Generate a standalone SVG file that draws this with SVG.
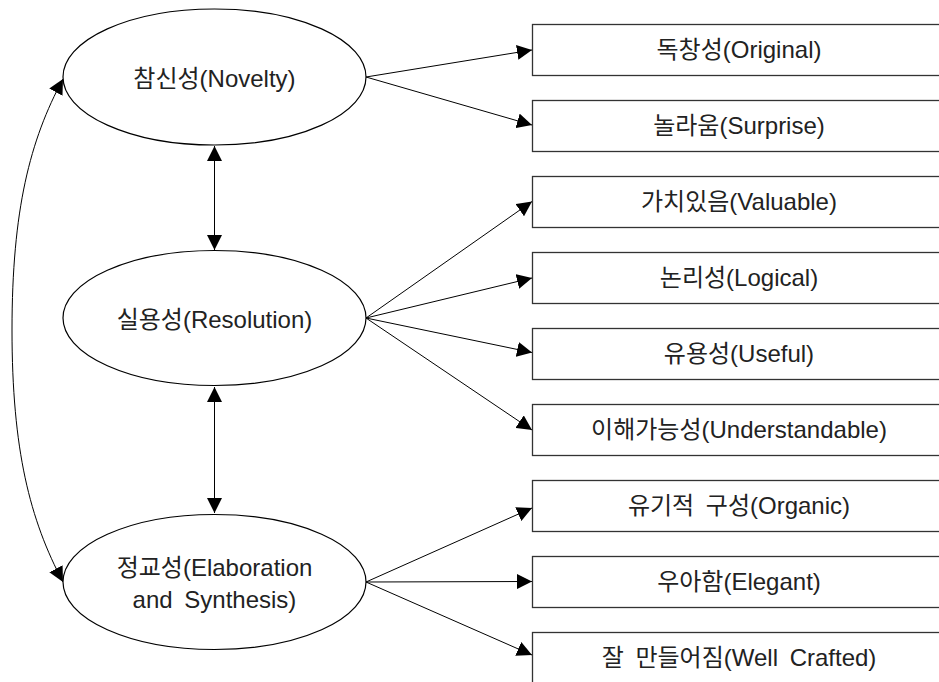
<svg xmlns="http://www.w3.org/2000/svg" width="939" height="682" viewBox="0 0 939 682">
<style>
.el{fill:#fff;stroke:#000;stroke-width:1.2}
.bx{fill:#fff;stroke:#333;stroke-width:1.3}
.t{font-family:"Liberation Sans","Noto Sans CJK KR",sans-serif;font-size:24px;fill:#222;text-anchor:middle;word-spacing:5px}
.c{fill:none;stroke:#000;stroke-width:1}
</style>
<defs>
<marker id="ah" viewBox="0 0 15 15" refX="15" refY="7.5" markerWidth="15" markerHeight="15" markerUnits="userSpaceOnUse" orient="auto-start-reverse">
<path d="M0,0 L15,7.5 L0,15 z" fill="#000"/>
</marker>
</defs>
<rect width="939" height="682" fill="#fff"/>
<g id="connectors">
<path class="c" d="M214.5,146 L214.5,250" marker-start="url(#ah)" marker-end="url(#ah)"/>
<path class="c" d="M214.5,387 L214.5,513" marker-start="url(#ah)" marker-end="url(#ah)"/>
<path class="c" d="M63,79 C30,140 12,210 12,330 C12,450 30,520 63,582" marker-start="url(#ah)" marker-end="url(#ah)"/>
<path class="c" d="M366,77 L532,50" marker-end="url(#ah)"/>
<path class="c" d="M366,77 L532,125" marker-end="url(#ah)"/>
<path class="c" d="M366,318 L532,201.5" marker-end="url(#ah)"/>
<path class="c" d="M366,318 L532,278" marker-end="url(#ah)"/>
<path class="c" d="M366,318 L532,352.5" marker-end="url(#ah)"/>
<path class="c" d="M366,318 L532,430" marker-end="url(#ah)"/>
<path class="c" d="M366,582 L532,508" marker-end="url(#ah)"/>
<path class="c" d="M366,582 L532,581.5" marker-end="url(#ah)"/>
<path class="c" d="M366,582 L532,655" marker-end="url(#ah)"/>
</g>
<g id="novelty">
<ellipse class="el" cx="214.5" cy="77" rx="151.5" ry="68"/>
<text class="t" x="214.5" y="87">참신성(Novelty)</text>
</g>
<g id="resolution">
<ellipse class="el" cx="214.5" cy="318" rx="151.5" ry="67.5"/>
<text class="t" x="214.5" y="328">실용성(Resolution)</text>
</g>
<g id="elaboration">
<ellipse class="el" cx="214.5" cy="582" rx="151.5" ry="67.5"/>
<text class="t" x="214.5" y="576">정교성(Elaboration</text>
<text class="t" x="214.5" y="608">and Synthesis)</text>
</g>
<g id="original">
<rect class="bx" x="532.5" y="24.5" width="420" height="51"/>
<text class="t" x="739" y="58">독창성(Original)</text>
</g>
<g id="surprise">
<rect class="bx" x="532.5" y="100.5" width="420" height="51"/>
<text class="t" x="739" y="134">놀라움(Surprise)</text>
</g>
<g id="valuable">
<rect class="bx" x="532.5" y="176.5" width="420" height="51"/>
<text class="t" x="739" y="210">가치있음(Valuable)</text>
</g>
<g id="logical">
<rect class="bx" x="532.5" y="252.5" width="420" height="51"/>
<text class="t" x="739" y="286">논리성(Logical)</text>
</g>
<g id="useful">
<rect class="bx" x="532.5" y="328.5" width="420" height="51"/>
<text class="t" x="739" y="362">유용성(Useful)</text>
</g>
<g id="understandable">
<rect class="bx" x="532.5" y="404.5" width="420" height="51"/>
<text class="t" x="739" y="438">이해가능성(Understandable)</text>
</g>
<g id="organic">
<rect class="bx" x="532.5" y="480.5" width="420" height="51"/>
<text class="t" x="739" y="514">유기적 구성(Organic)</text>
</g>
<g id="elegant">
<rect class="bx" x="532.5" y="556.5" width="420" height="51"/>
<text class="t" x="739" y="590">우아함(Elegant)</text>
</g>
<g id="wellcrafted">
<rect class="bx" x="532.5" y="632.5" width="420" height="60"/>
<text class="t" x="739" y="666">잘 만들어짐(Well Crafted)</text>
</g>
</svg>
